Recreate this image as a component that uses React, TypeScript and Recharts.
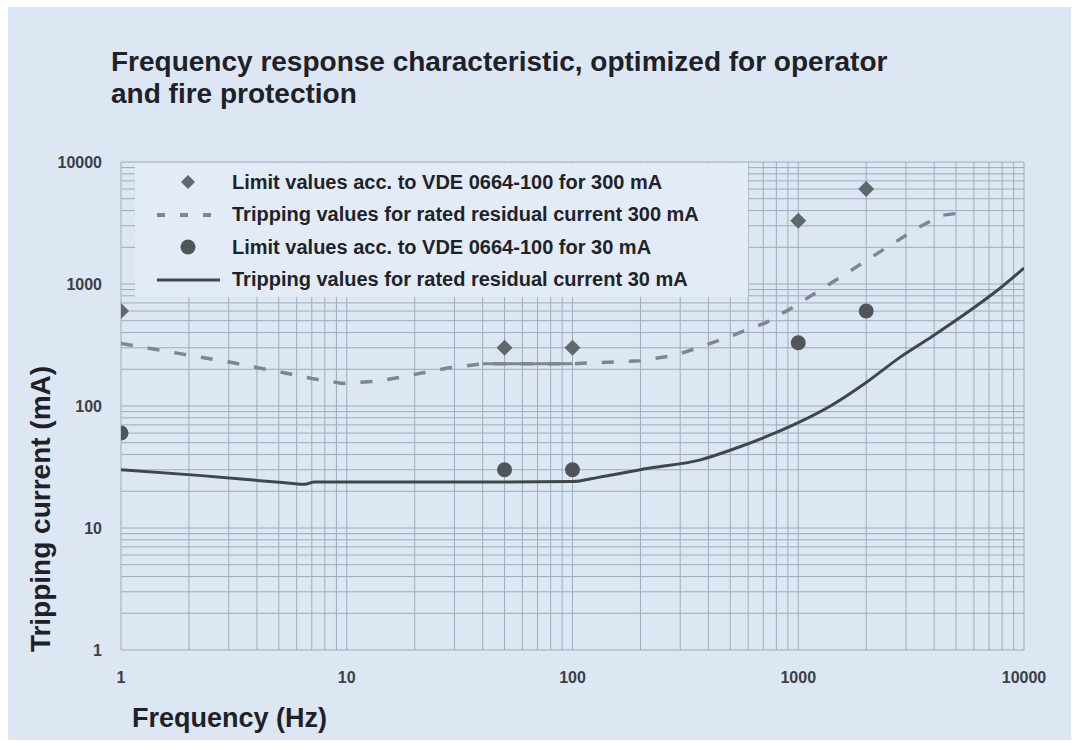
import React from "react";
import { CartesianGrid, ComposedChart, Line, Scatter, XAxis, YAxis } from "recharts";

// limit values acc. to VDE 0664-100 (mA over Hz)
const limit300 = [
  { f: 1, v: 600 },
  { f: 50, v: 300 },
  { f: 100, v: 300 },
  { f: 1000, v: 3300 },
  { f: 2000, v: 6000 },
];
const limit30 = [
  { f: 1, v: 60 },
  { f: 50, v: 30 },
  { f: 100, v: 30 },
  { f: 1000, v: 330 },
  { f: 2000, v: 600 },
];

// measured tripping curves
const trip300 = [
  { f: 1, v: 325 },
  { f: 1.8, v: 270 },
  { f: 3.1, v: 227 },
  { f: 5.2, v: 188 },
  { f: 7, v: 168 },
  { f: 9.6, v: 153 },
  { f: 13.7, v: 160 },
  { f: 17, v: 171 },
  { f: 28, v: 205 },
  { f: 40, v: 222 },
  { f: 100, v: 222 },
  { f: 200, v: 235 },
  { f: 290, v: 262 },
  { f: 400, v: 322 },
  { f: 510, v: 378 },
  { f: 720, v: 483 },
  { f: 940, v: 640 },
  { f: 1700, v: 1280 },
  { f: 2450, v: 1980 },
  { f: 3400, v: 2900 },
  { f: 4300, v: 3650 },
  { f: 5100, v: 3800 },
];
const trip300Solid = [
  { f: 40, v: 222 },
  { f: 100, v: 222 },
];
const trip30 = [
  { f: 1, v: 30 },
  { f: 2.2, v: 27 },
  { f: 5, v: 23.7 },
  { f: 6.5, v: 22.8 },
  { f: 7.2, v: 23.8 },
  { f: 30, v: 23.8 },
  { f: 100, v: 24 },
  { f: 130, v: 26 },
  { f: 220, v: 31 },
  { f: 365, v: 36 },
  { f: 510, v: 44 },
  { f: 720, v: 56 },
  { f: 1000, v: 73 },
  { f: 1400, v: 101 },
  { f: 2000, v: 156 },
  { f: 2800, v: 248 },
  { f: 3900, v: 370 },
  { f: 5500, v: 570 },
  { f: 7750, v: 910 },
  { f: 10000, v: 1350 },
];

const decades = [1, 10, 100, 1000];
const logTicks = [...decades.flatMap((d) => [1, 2, 3, 4, 5, 6, 7, 8, 9].map((m) => m * d)), 10000];

const FONT = "'Liberation Sans', Arial, Helvetica, sans-serif";
const C_DIAMOND = "#62676e";
const C_CIRCLE = "#50555c";
const C_DASH = "#80868d";
const C_SOLID = "#41464d";

const fmtTick = (v: number) => (Math.log10(v) % 1 === 0 ? String(v) : "");

const Diamond = (p: any) => (
  <polygon
    points={`${p.cx},${p.cy - 8} ${p.cx + 8},${p.cy} ${p.cx},${p.cy + 8} ${p.cx - 8},${p.cy}`}
    fill={C_DIAMOND}
  />
);
const Dot = (p: any) => <circle cx={p.cx} cy={p.cy} r={7.5} fill={C_CIRCLE} />;

const legendItems = [
  { kind: "diamond", text: "Limit values acc. to VDE 0664-100 for 300 mA" },
  { kind: "dash", text: "Tripping values for rated residual current 300 mA" },
  { kind: "circle", text: "Limit values acc. to VDE 0664-100 for 30 mA" },
  { kind: "solid", text: "Tripping values for rated residual current 30 mA" },
];

const LegendIcon = ({ kind }: { kind: string }) => (
  <svg width={97} height={20} style={{ flex: "none" }}>
    {kind === "diamond" && <polygon points="53,3 60,10 53,17 46,10" fill={C_DIAMOND} />}
    {kind === "circle" && <circle cx={53} cy={10} r={7.5} fill={C_CIRCLE} />}
    {kind === "dash" && (
      <line x1={22} y1={10} x2={83} y2={10} stroke={C_DASH} strokeWidth={4} strokeDasharray="8 15" />
    )}
    {kind === "solid" && <line x1={22} y1={10} x2={85} y2={10} stroke={C_SOLID} strokeWidth={3} />}
  </svg>
);

const App = () => {
  const tickStyle = { fontSize: 16, fontWeight: 700, fill: "#3b4047", fontFamily: FONT };
  return (
    <div style={{ position: "absolute", left: 0, top: 0, width: 1079, height: 742, background: "#fff", fontFamily: FONT }}>
      <div style={{ position: "absolute", left: 8, top: 7, width: 1063, height: 733, background: "#dce7f3" }} />
      <div
        style={{
          position: "absolute",
          left: 111,
          top: 46,
          fontSize: 28,
          lineHeight: "32px",
          fontWeight: 700,
          color: "#1e2228",
        }}
      >
        Frequency response characteristic, optimized for operator
        <br />
        and fire protection
      </div>
      <div style={{ position: "absolute", left: 0, top: 0 }}>
        <ComposedChart width={1079} height={742} margin={{ top: 162, right: 55, bottom: 52, left: 61 }}>
          <CartesianGrid stroke="#9dacbd" strokeWidth={1} />
          <XAxis
            dataKey="f"
            type="number"
            scale="log"
            domain={[1, 10000]}
            allowDataOverflow
            ticks={logTicks}
            interval={0}
            tickFormatter={fmtTick}
            axisLine={false}
            tickLine={false}
            tickSize={0}
            tickMargin={22}
            height={40}
            tick={tickStyle}
            label={{
              value: "Frequency (Hz)",
              content: () => (
                <text x={132} y={727} fontSize={27} fontWeight={700} fill="#1e2228" fontFamily={FONT}>
                  Frequency (Hz)
                </text>
              ),
            }}
          />
          <YAxis
            dataKey="v"
            type="number"
            scale="log"
            domain={[1, 10000]}
            allowDataOverflow
            ticks={logTicks}
            interval={0}
            tickFormatter={fmtTick}
            axisLine={false}
            tickLine={false}
            tickSize={0}
            tickMargin={19}
            width={60}
            tick={tickStyle}
            label={{
              value: "Tripping current (mA)",
              content: () => (
                <text
                  x={50}
                  y={509}
                  transform="rotate(-90 50 509)"
                  textAnchor="middle"
                  fontSize={28}
                  fontWeight={700}
                  fill="#1e2228"
                  fontFamily={FONT}
                >
                  Tripping current (mA)
                </text>
              ),
            }}
          />
          <Line
            data={trip300}
            dataKey="v"
            type="linear"
            stroke={C_DASH}
            strokeWidth={3.5}
            strokeDasharray="12 15"
            dot={false}
            activeDot={false}
            isAnimationActive={false}
          />
          <Line
            data={trip300Solid}
            dataKey="v"
            type="linear"
            stroke={C_DASH}
            strokeWidth={3}
            dot={false}
            activeDot={false}
            isAnimationActive={false}
          />
          <Line
            data={trip30}
            dataKey="v"
            type="monotone"
            stroke={C_SOLID}
            strokeWidth={3}
            dot={false}
            activeDot={false}
            isAnimationActive={false}
          />
          <Scatter data={limit300} dataKey="v" shape={Diamond} isAnimationActive={false} />
          <Scatter data={limit30} dataKey="v" shape={Dot} isAnimationActive={false} />
        </ComposedChart>
      </div>
      <div
        style={{
          position: "absolute",
          left: 135,
          top: 163,
          width: 613,
          height: 134,
          background: "#e3ecf6",
        }}
      >
        {legendItems.map((it, i) => (
          <div
            key={it.kind}
            style={{
              position: "absolute",
              left: 0,
              top: 3 + i * 32.6,
              height: 32,
              display: "flex",
              alignItems: "center",
              fontSize: 20,
              fontWeight: 700,
              color: "#1f2329",
              whiteSpace: "nowrap",
            }}
          >
            <LegendIcon kind={it.kind} />
            <span>{it.text}</span>
          </div>
        ))}
      </div>
    </div>
  );
};

export default App;
